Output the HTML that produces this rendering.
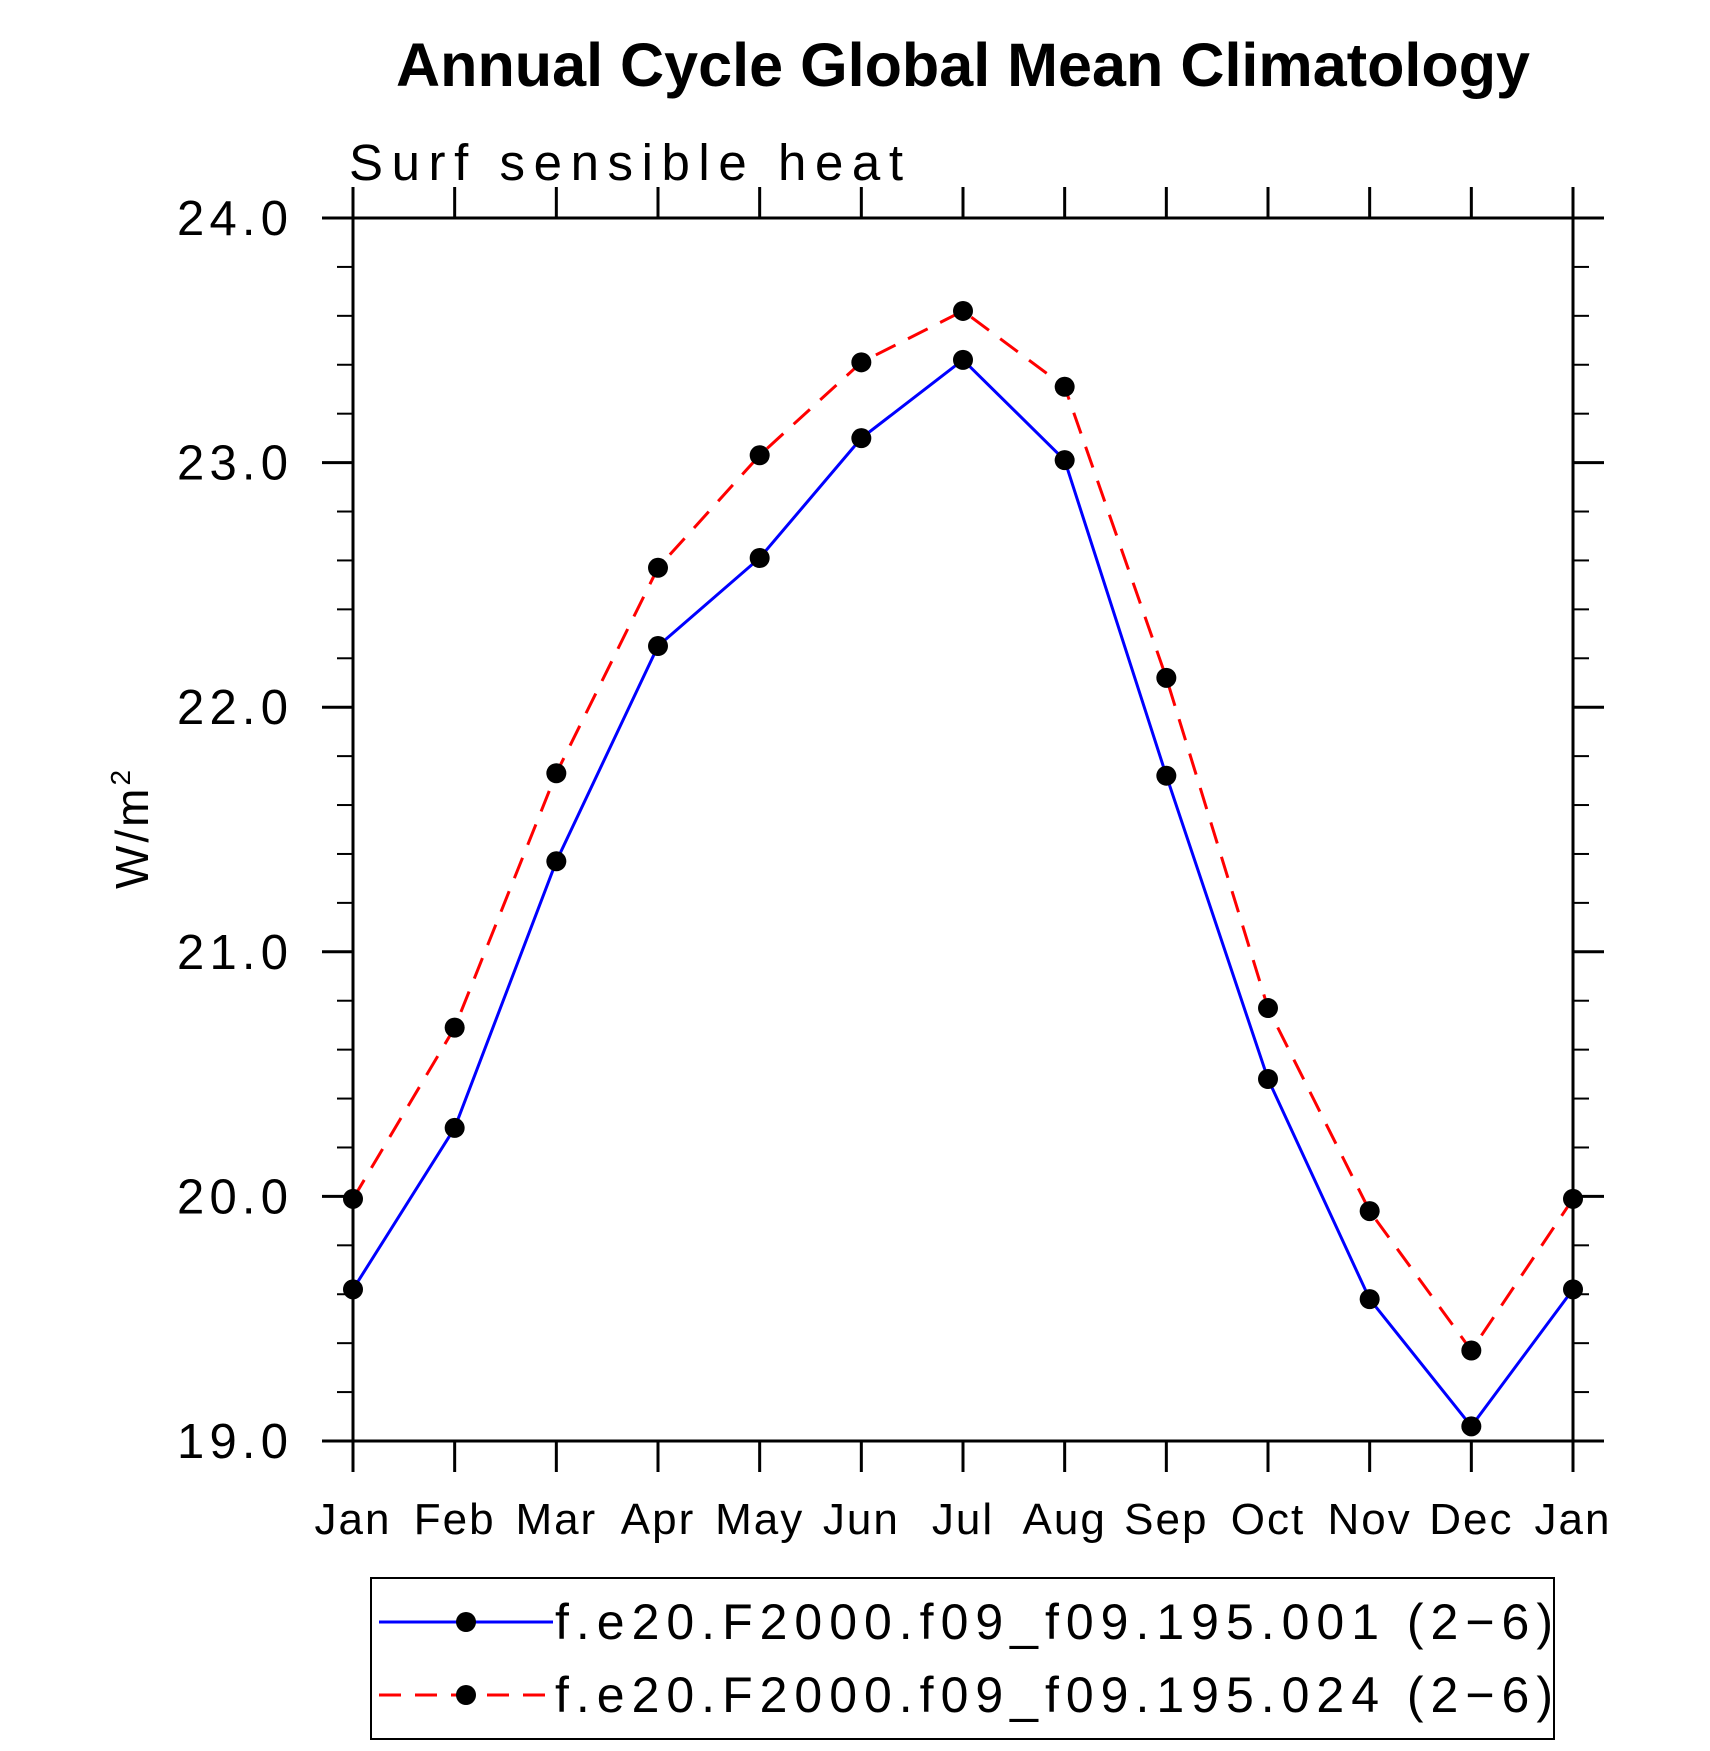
<!DOCTYPE html>
<html><head><meta charset="utf-8"><style>
body{margin:0;background:#fff}
svg text{font-family:"Liberation Sans",sans-serif}
</style></head><body>
<svg id="chart" width="1710" height="1746" viewBox="0 0 1710 1746" xmlns="http://www.w3.org/2000/svg">
<text x="963" y="86" font-size="61" font-weight="bold" text-anchor="middle" textLength="1134" lengthAdjust="spacingAndGlyphs">Annual Cycle Global Mean Climatology</text>
<text x="349" y="180" font-size="51" textLength="554" lengthAdjust="spacing">Surf  sensible  heat</text>
<text transform="translate(148,828) rotate(-90)" font-size="46" text-anchor="middle" letter-spacing="3">W/m<tspan font-size="28" dy="-18">2</tspan></text>
<g id="axes"></g>
<g id="series"></g>
<g>
<rect x="371" y="1578" width="1183" height="161" fill="none" stroke="#000" stroke-width="2"/>
<g>
<line x1="379" y1="1622" x2="553" y2="1622" stroke="#0000ff" stroke-width="3"/>
<circle cx="466" cy="1622" r="10" fill="#000"/>
<text x="555" y="1639" font-size="50" textLength="998" lengthAdjust="spacing">f.e20.F2000.f09_f09.195.001 (2−6)</text>
</g>
<g>
<line x1="379" y1="1695" x2="553" y2="1695" stroke="#ff0000" stroke-width="3" stroke-dasharray="22,14"/>
<circle cx="466" cy="1695" r="10" fill="#000"/>
<text x="555" y="1712" font-size="50" textLength="998" lengthAdjust="spacing">f.e20.F2000.f09_f09.195.024 (2−6)</text>
</g>
</g>
</svg>
<script>
const months = ["Jan","Feb","Mar","Apr","May","Jun","Jul","Aug","Sep","Oct","Nov","Dec","Jan"];
const series001 = [19.62,20.28,21.37,22.25,22.61,23.10,23.42,23.01,21.72,20.48,19.58,19.06,19.62];
const series024 = [19.99,20.69,21.73,22.57,23.03,23.41,23.62,23.31,22.12,20.77,19.94,19.37,19.99];
const yTicks = [19,20,21,22,23,24];
const yTickLabels = ["19.0","20.0","21.0","22.0","23.0","24.0"];

const L=353,R=1573,T=218,B=1441,ymin=19,ymax=24;
const NS="http://www.w3.org/2000/svg";
const xs=i=>L+(R-L)*i/(months.length-1);
const ys=v=>B-(v-ymin)/(ymax-ymin)*(B-T);
function mk(tag,attrs,parent){const e=document.createElementNS(NS,tag);for(const k in attrs)e.setAttribute(k,attrs[k]);parent.appendChild(e);return e;}
const ax=document.getElementById('axes');
const frame=mk('rect',{x:L,y:T,width:R-L,height:B-T,fill:'none',stroke:'#000','stroke-width':3},ax);


months.forEach((m,i)=>{
  const x=xs(i);
  const t1=mk('line',{x1:x,y1:B,x2:x,y2:B+31,stroke:'#000','stroke-width':3},ax);
  
  
  const t2=mk('line',{x1:x,y1:T,x2:x,y2:T-31,stroke:'#000','stroke-width':3},ax);
  
  
  const lb=mk('text',{x:x,y:B+93,'font-size':44,'text-anchor':'middle','letter-spacing':2},ax);
  lb.textContent=m;
  
  
});
yTicks.forEach((v,i)=>{
  const y=ys(v);
  const a=mk('line',{x1:L-31,y1:y,x2:L,y2:y,stroke:'#000','stroke-width':3},ax);
  
  
  const b=mk('line',{x1:R,y1:y,x2:R+31,y2:y,stroke:'#000','stroke-width':3},ax);
  
  
  const lb=mk('text',{x:177,y:y+17,'font-size':49,textLength:111,lengthAdjust:'spacing'},ax);
  lb.textContent=yTickLabels[i];
  
  
});
for(let v=ymin;v<ymax-0.01;v+=0.2){
  if(Math.abs(v-Math.round(v))<0.01)continue;
  const y=ys(v);
  const a=mk('line',{x1:L-16,y1:y,x2:L,y2:y,stroke:'#000','stroke-width':2},ax);
  
  
  const b=mk('line',{x1:R,y1:y,x2:R+16,y2:y,stroke:'#000','stroke-width':2},ax);
  
  
}
const sg=document.getElementById('series');
function draw(data,color,dash,name){
  const pts=data.map((v,i)=>xs(i)+','+ys(v)).join(' ');
  const pl=mk('polyline',{points:pts,fill:'none',stroke:color,'stroke-width':3},sg);
  if(dash)pl.setAttribute('stroke-dasharray',dash);
  
  
  data.forEach((v,i)=>{
    const c=mk('circle',{cx:xs(i),cy:ys(v),r:10,fill:'#000'},sg);
    
    
  });
}
draw(series001,'#0000ff',null,'series-001');
draw(series024,'#ff0000','22,14','series-024');
</script>
</body></html>
